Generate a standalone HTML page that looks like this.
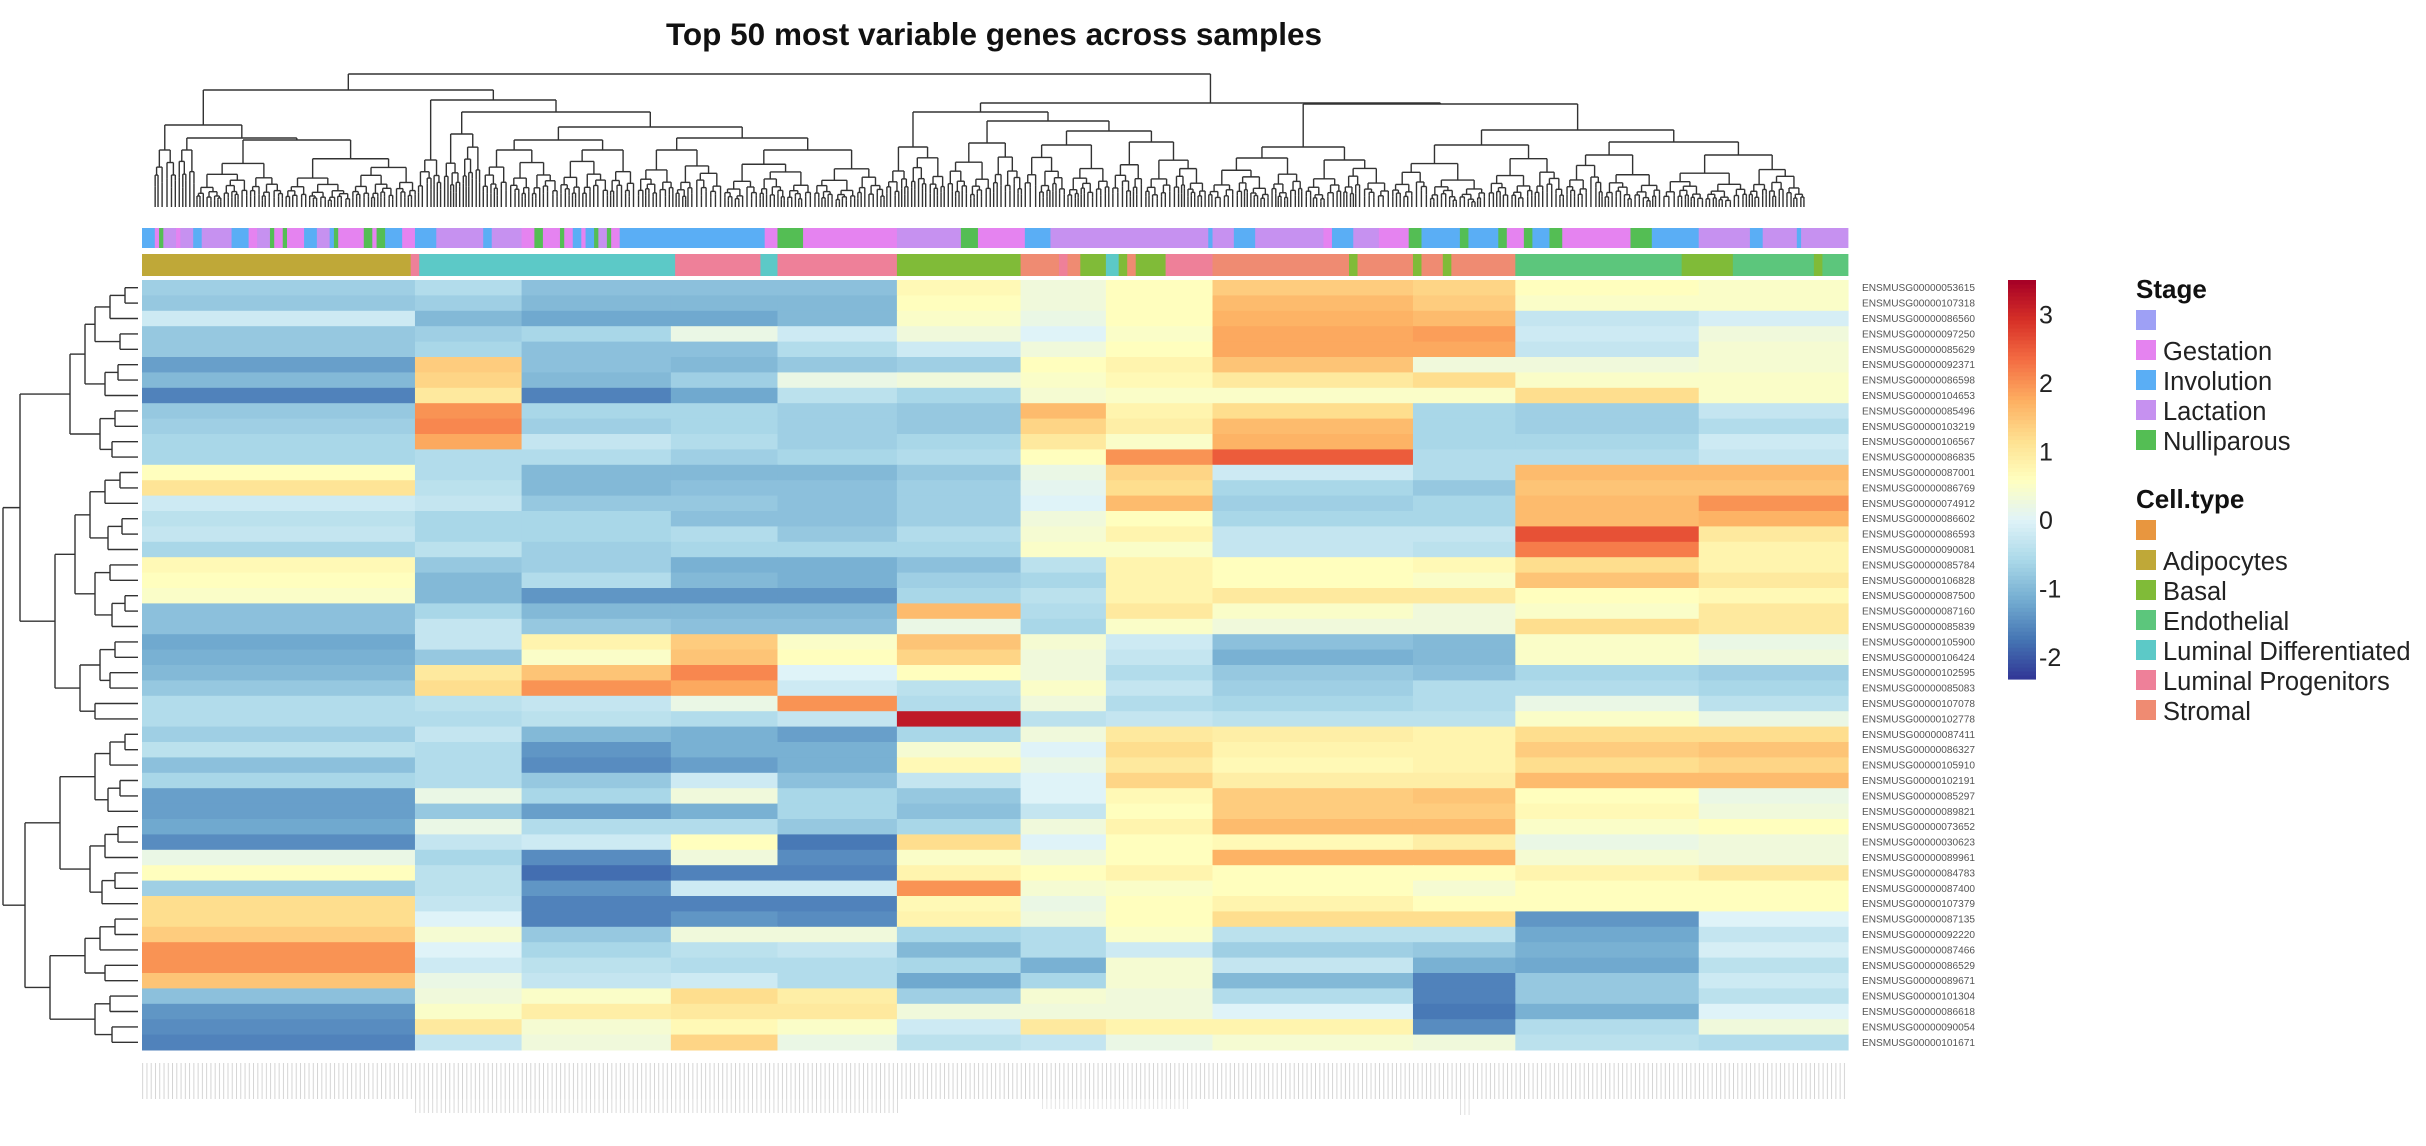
<!DOCTYPE html>
<html><head><meta charset="utf-8">
<style>
html,body{margin:0;padding:0;background:#fff;}
svg{display:block;font-family:"Liberation Sans",sans-serif;}
</style></head>
<body>
<svg id="chart" width="2426" height="1146" viewBox="0 0 2426 1146" xmlns="http://www.w3.org/2000/svg">
<defs>
<pattern id="lblpat" width="4.265" height="40" patternUnits="userSpaceOnUse">
<rect x="1.5" y="0" width="0.9" height="40" fill="#c4c4c4"/>
</pattern>
</defs>
<text x="994" y="45" text-anchor="middle" font-size="31.5" font-weight="bold" fill="#111">Top 50 most variable genes across samples</text>
<g id="coldend" stroke="#333" stroke-width="1.4" fill="none"></g>
<g id="rowdend" stroke="#333" stroke-width="1.4" fill="none"></g>
<g id="stagebar"></g>
<g id="cellbar"></g>
<g id="heat"></g>
<g id="rowlabels"></g>
<g>
<rect x="142" y="1063" width="1706" height="36" fill="url(#lblpat)" opacity="0.8"/>
<rect x="414" y="1099" width="484" height="14" fill="url(#lblpat)" opacity="0.7"/>
<rect x="1040" y="1099" width="150" height="10" fill="url(#lblpat)" opacity="0.5"/>
<rect x="1460" y="1099" width="10" height="16" fill="url(#lblpat)" opacity="0.6"/>
</g>
<g id="colorbar"></g>
<g id="legend"></g>
</svg>
<script>
// ---------- data ----------
const N_SAMPLES = 400;
const segEnds = [64, 89, 124, 149, 177, 206, 226, 251, 298, 322, 365, 400];
const geneIds = ["ENSMUSG00000053615","ENSMUSG00000107318","ENSMUSG00000086560","ENSMUSG00000097250","ENSMUSG00000085629","ENSMUSG00000092371","ENSMUSG00000086598","ENSMUSG00000104653","ENSMUSG00000085496","ENSMUSG00000103219","ENSMUSG00000106567","ENSMUSG00000086835","ENSMUSG00000087001","ENSMUSG00000086769","ENSMUSG00000074912","ENSMUSG00000086602","ENSMUSG00000086593","ENSMUSG00000090081","ENSMUSG00000085784","ENSMUSG00000106828","ENSMUSG00000087500","ENSMUSG00000087160","ENSMUSG00000085839","ENSMUSG00000105900","ENSMUSG00000106424","ENSMUSG00000102595","ENSMUSG00000085083","ENSMUSG00000107078","ENSMUSG00000102778","ENSMUSG00000087411","ENSMUSG00000086327","ENSMUSG00000105910","ENSMUSG00000102191","ENSMUSG00000085297","ENSMUSG00000089821","ENSMUSG00000073652","ENSMUSG00000030623","ENSMUSG00000089961","ENSMUSG00000084783","ENSMUSG00000087400","ENSMUSG00000107379","ENSMUSG00000087135","ENSMUSG00000092220","ENSMUSG00000087466","ENSMUSG00000086529","ENSMUSG00000089671","ENSMUSG00000101304","ENSMUSG00000086618","ENSMUSG00000090054","ENSMUSG00000101671"];
const rowValues = [
[-0.7,-0.5,-0.9,-0.9,-0.9,0.7,0.3,0.6,1.4,1.3,0.6,0.5],
[-0.8,-0.7,-1.0,-1.0,-1.0,0.6,0.3,0.6,1.6,1.4,0.5,0.5],
[-0.2,-1.0,-1.2,-1.2,-1.0,0.5,0.2,0.6,1.7,1.6,-0.3,-0.1],
[-0.8,-0.7,-0.6,0.2,-0.2,0.3,0.0,0.5,1.8,1.9,-0.2,0.3],
[-0.8,-0.6,-0.9,-0.9,-0.5,-0.2,0.3,0.6,1.8,1.8,-0.3,0.4],
[-1.3,1.4,-0.9,-1.0,-0.8,-0.7,0.6,0.8,1.5,0.3,0.3,0.4],
[-1.0,1.3,-1.0,-0.7,0.2,0.3,0.5,0.7,1.0,1.2,0.5,0.5],
[-1.6,1.0,-1.6,-1.2,-0.4,-0.6,0.4,0.5,0.5,0.5,1.2,0.5],
[-0.8,2.0,-0.6,-0.6,-0.7,-0.8,1.6,0.8,1.2,-0.6,-0.7,-0.3],
[-0.7,2.1,-0.7,-0.6,-0.7,-0.8,1.3,0.9,1.6,-0.6,-0.7,-0.5],
[-0.6,1.8,-0.3,-0.5,-0.7,-0.6,1.0,0.5,1.7,-0.6,-0.6,-0.2],
[-0.6,-0.5,-0.5,-0.7,-0.6,-0.5,0.6,2.0,2.5,-0.5,-0.5,-0.3],
[0.6,-0.5,-1.0,-1.0,-1.0,-0.8,0.2,1.3,-0.2,-0.5,1.6,1.6],
[1.1,-0.4,-1.0,-0.9,-0.9,-0.7,0.1,1.2,-0.6,-0.8,1.5,1.5],
[-0.2,-0.3,-0.8,-0.8,-0.9,-0.7,0.0,1.6,-0.7,-0.6,1.6,2.0],
[-0.4,-0.6,-0.6,-0.9,-0.9,-0.7,0.3,0.6,-0.6,-0.6,1.6,1.7],
[-0.3,-0.6,-0.6,-0.5,-0.8,-0.5,0.4,0.8,-0.3,-0.3,2.6,1.0],
[-0.6,-0.4,-0.7,-0.6,-0.6,-0.6,0.5,0.5,-0.3,-0.4,2.2,0.8],
[0.7,-0.8,-0.7,-1.1,-1.1,-0.9,-0.4,0.8,0.6,0.7,1.2,0.8],
[0.6,-1.0,-0.5,-1.0,-1.1,-0.7,-0.6,0.8,0.6,0.5,1.5,1.0],
[0.5,-1.0,-1.4,-1.4,-1.4,-0.6,-0.4,0.8,1.0,1.0,0.6,0.7],
[-0.9,-0.6,-1.0,-1.0,-1.0,1.6,-0.5,1.0,0.5,0.3,0.5,1.0],
[-0.9,-0.3,-0.8,-0.9,-0.9,0.2,-0.6,0.5,0.3,0.3,1.2,1.0],
[-1.2,-0.3,0.8,1.4,0.5,1.5,0.4,-0.2,-0.9,-1.0,0.5,0.2],
[-1.1,-0.8,0.5,1.5,0.6,1.3,0.3,-0.3,-1.1,-1.0,0.5,0.3],
[-1.0,1.0,1.5,2.1,0.0,0.6,0.3,-0.5,-0.8,-0.9,-0.6,-0.7],
[-0.8,1.2,2.0,1.8,-0.2,-0.4,0.5,-0.3,-0.7,-0.5,-0.5,-0.6],
[-0.5,-0.4,-0.3,0.2,2.0,-0.5,0.3,-0.5,-0.6,-0.5,0.2,-0.4],
[-0.5,-0.5,-0.4,-0.5,-0.3,3.2,-0.4,-0.3,-0.4,-0.4,0.5,0.2],
[-0.7,-0.3,-1.0,-1.1,-1.3,-0.6,0.3,1.0,0.9,0.8,1.2,1.2],
[-0.4,-0.5,-1.4,-1.1,-1.1,0.4,0.0,1.2,0.8,0.8,1.4,1.5],
[-0.9,-0.5,-1.5,-1.3,-1.1,0.7,0.2,1.0,0.7,0.8,1.2,1.3],
[-0.6,-0.5,-0.8,-0.2,-0.9,-0.3,0.0,1.3,0.9,0.9,1.6,1.6],
[-1.3,0.2,-0.6,0.3,-0.6,-0.8,0.0,0.7,1.4,1.5,0.6,0.2],
[-1.3,-0.8,-1.3,-1.1,-0.6,-0.9,-0.3,0.6,1.4,1.4,0.7,0.3],
[-1.2,0.2,-0.5,-0.5,-0.8,-0.6,0.3,0.8,1.6,1.6,0.5,0.6],
[-1.5,-0.3,-0.2,0.6,-1.7,1.2,0.0,0.6,0.7,0.9,0.2,0.3],
[0.2,-0.6,-1.5,0.3,-1.5,0.5,0.3,0.6,1.7,1.7,0.4,0.3],
[0.6,-0.4,-1.8,-1.6,-1.6,0.8,0.6,0.8,0.6,0.6,0.8,1.0],
[-0.7,-0.4,-1.4,-0.2,-0.2,2.0,0.4,0.5,0.6,0.4,0.6,0.6],
[1.2,-0.3,-1.6,-1.6,-1.6,0.7,0.2,0.6,0.8,0.6,0.6,0.6],
[1.2,0.0,-1.6,-1.4,-1.5,0.8,0.3,0.6,1.2,1.2,-1.4,0.0],
[1.4,0.4,-0.8,0.3,0.3,-0.6,-0.5,0.5,-0.4,-0.4,-1.2,-0.3],
[2.0,0.0,-0.6,-0.4,-0.3,-1.0,-0.5,-0.2,-0.7,-0.8,-1.1,-0.1],
[2.0,-0.2,-0.4,-0.5,-0.5,-0.6,-1.1,0.4,-0.3,-1.1,-1.2,-0.4],
[1.5,0.2,-0.3,-0.2,-0.5,-1.2,-0.6,0.4,-1.0,-1.6,-0.8,-0.2],
[-0.9,0.3,0.5,1.2,0.9,-0.7,0.4,0.3,-0.5,-1.6,-0.8,-0.4],
[-1.4,0.5,0.9,1.0,1.0,0.3,0.3,0.3,0.0,-1.7,-1.1,0.0],
[-1.5,1.0,0.4,0.7,0.5,-0.2,1.0,0.8,0.8,-1.5,-0.5,0.3],
[-1.6,-0.3,0.3,1.3,0.2,-0.4,-0.3,0.2,0.4,0.3,-0.4,-0.5]
];
const stageNames = ["", "Gestation", "Involution", "Lactation", "Nulliparous"];
const stageColors = ["#9ea0f5", "#e583f0", "#5aaef5", "#c691f0", "#54be54"];
const stageSegEnds = [3,4,5,8,9,12,14,21,25,27,30,31,33,34,38,41,44,45,46,52,54,55,57,61,64,69,80,82,89,92,94,98,99,101,103,104,106,107,109,110,112,146,149,155,177,192,196,207,213,250,251,256,261,277,279,284,290,297,300,309,311,318,320,324,326,330,333,349,354,365,377,380,388,389,400];
const stageSegCodes = [2,1,4,3,1,3,2,3,2,1,3,4,1,4,1,2,3,2,4,1,4,1,4,2,1,2,3,2,3,1,4,1,4,1,2,1,2,4,3,4,1,2,1,4,1,3,4,1,2,3,2,3,2,3,1,2,3,1,4,2,4,2,4,1,4,2,4,1,4,2,3,2,3,2,3];
const cellNames = ["", "Adipocytes", "Basal", "Endothelial", "Luminal Differentiated", "Luminal Progenitors", "Stromal"];
const cellColors = ["#e8963f", "#bfa838", "#80bb38", "#5cc67c", "#5cc9c7", "#ee8099", "#ef8b72"];
const cellSegEnds = [63,65,125,145,149,177,206,215,217,220,226,229,231,233,240,251,283,285,298,300,305,307,322,361,373,392,394,400];
const cellSegCodes = [1,5,4,5,4,5,2,6,5,6,2,4,2,6,2,5,6,2,6,2,6,2,6,3,2,3,2,3];
const colorStops = ["#313695","#4575b4","#74add1","#abd9e9","#e0f3f8","#ffffbf","#fee090","#fdae61","#f46d43","#d73027","#a50026"];
const scaleMin = -2.32, scaleMax = 3.5;
const colorbarTicks = [-2, -1, 0, 1, 2, 3];
const colTree = [74,
 [90,
   [125, [142,166,150], [138, [166,185,150], [185,414,140]]],
   [100, [414,440,160], [112, [440,480,134], [127, [140,[480,560,150],[560,640,150]], [138,[640,730,150],[730,898,150]]]]]],
 [103,
   [112, [898,960,147], [121, [960,1040,143], [131,[1040,1130,145],[1130,1230,142]]]],
   [104, [147,[1230,1330,158],[1330,1420,160]], [130, [1420,1600,145], [142,[1600,1700,155],[1700,1848,155]]]]]];
const rowTree = [3,
 [20,
  [70, [85, [95,[110,[125,0,1],2],[120,3,4]], [105,[118,5,6],7]], [100,[115,8,9],[112,10,11]]],
  [55, [75, [90,[105,[120,12,13],14],[108,[122,15,16],17]], [95,[110,18,19],[112,[125,20,21],22]]],
       [80,[100,[115,23,24],[110,25,26]],[95,27,28]]]],
 [25,
  [60, [95,[110,[125,29,30],31],[108,[120,32,33],34]], [90,[105,[118,35,36],37],[102,[115,38,39],40]]],
  [50, [85,[100,[115,41,42],43],[105,44,45]], [95,[110,46,47],[112,48,49]]]]];

// ---------- geometry ----------
const NS = "http://www.w3.org/2000/svg";
const HX0 = 142, HX1 = 1848, HY0 = 280, HY1 = 1050;
const ROWH = (HY1 - HY0) / geneIds.length;
const xScale = s => HX0 + s * (HX1 - HX0) / N_SAMPLES;
const yScale = r => HY0 + r * ROWH;
const CB_TOP = 280, CB_BOT = 679, CB_ZERO = 520;
const cbPerUnit = (CB_ZERO - CB_TOP) / scaleMax;
const cbY = v => CB_ZERO - v * cbPerUnit;

function hex2rgb(h){return [parseInt(h.substr(1,2),16),parseInt(h.substr(3,2),16),parseInt(h.substr(5,2),16)];}
function colorFor(v){
  let t = (v - scaleMin) / (scaleMax - scaleMin);
  t = Math.max(0, Math.min(1, t)) * (colorStops.length - 1);
  const i = Math.min(colorStops.length - 2, Math.floor(t)), f = t - i;
  const a = hex2rgb(colorStops[i]), b = hex2rgb(colorStops[i+1]);
  return "rgb(" + a.map((c,k)=>Math.round(c + (b[k]-c)*f)).join(",") + ")";
}
function mk(tag, attrs, parent){
  const e = document.createElementNS(NS, tag);
  for (const k in attrs) e.setAttribute(k, attrs[k]);
  parent.appendChild(e);
  return e;
}

// ---------- heatmap ----------
const heat = document.getElementById("heat");
rowValues.forEach((vals, r) => {
  let s0 = 0;
  vals.forEach((v, c) => {
    const s1 = segEnds[c];
    const el = mk("rect", {x: xScale(s0), y: yScale(r), width: xScale(s1) - xScale(s0) + 0.6, height: ROWH + 0.5, fill: colorFor(v)}, heat);
    
    
    s0 = s1;
  });
});

// ---------- row labels ----------
const rl = document.getElementById("rowlabels");
geneIds.forEach((g, r) => {
  const t = mk("text", {x: 1862, y: yScale(r) + ROWH/2 + 3.5, "font-size": 10, fill: "#555", textLength: 113, lengthAdjust: "spacingAndGlyphs"}, rl);
  t.textContent = g;
  
  
});

// ---------- annotation bars ----------
function drawBar(gid, ends, codes, colors, y, h, nm){
  const g = document.getElementById(gid);
  let s0 = 0;
  ends.forEach((s1, i) => {
    const el = mk("rect", {x: xScale(s0), y: y, width: xScale(s1) - xScale(s0) + 0.4, height: h, fill: colors[codes[i]]}, g);
    
    
    s0 = s1;
  });
}
drawBar("stagebar", stageSegEnds, stageSegCodes, stageColors, 228, 20, "stage-segment");
drawBar("cellbar", cellSegEnds, cellSegCodes, cellColors, 254, 22, "cell-type-segment");

// ---------- column dendrogram ----------
const cd = document.getElementById("coldend");
const LEAF_Y = 207;
const dmap = x => 154 + (x - 142) * (1805 - 154) / (1848 - 142);
function ln(g, x1, y1, x2, y2){ mk("line", {x1:x1, y1:y1, x2:x2, y2:y2}, g); }
const fSeq = [0.45,0.55,0.4,0.6,0.5,0.35,0.65];
const klSeq = [0.3,0.2,0.35,0.25,0.4];
const krSeq = [0.22,0.38,0.28,0.33,0.18];
function sub(x0, x1, y, d){
  if (x1 - x0 < 5.5) { const xc = (x0 + x1) / 2; ln(cd, xc, y, xc, LEAF_Y); return xc; }
  const xm = x0 + (x1 - x0) * fSeq[d % 7];
  const yl = y + (LEAF_Y - y) * klSeq[d % 5];
  const yr = y + (LEAF_Y - y) * krSeq[d % 5];
  const a = sub(x0, xm, yl, d + 1), b = sub(xm, x1, yr, d + 2);
  ln(cd, a, y, b, y); ln(cd, a, y, a, yl); ln(cd, b, y, b, yr);
  return (a + b) / 2;
}
let termCount = 0;
function drawCol(node){
  if (!Array.isArray(node[1])) {
    const x = sub(dmap(node[0]), dmap(node[1]), node[2], termCount++);
    return {x: x, y: node[2]};
  }
  const a = drawCol(node[1]), b = drawCol(node[2]), y = node[0];
  ln(cd, a.x, y, b.x, y); ln(cd, a.x, y, a.x, a.y); ln(cd, b.x, y, b.x, b.y);
  return {x: (a.x + b.x) / 2, y: y};
}
drawCol(colTree);

// ---------- row dendrogram ----------
const rd = document.getElementById("rowdend");
const LEAF_X = 138;
function drawRow(node){
  if (typeof node === "number") return {y: yScale(node) + ROWH/2, x: LEAF_X};
  const a = drawRow(node[1]), b = drawRow(node[2]), x = node[0];
  ln(rd, x, a.y, x, b.y); ln(rd, x, a.y, a.x, a.y); ln(rd, x, b.y, b.x, b.y);
  return {y: (a.y + b.y) / 2, x: x};
}
drawRow(rowTree);

// ---------- colorbar ----------
const cb = document.getElementById("colorbar");
const nSteps = 100;
for (let i = 0; i < nSteps; i++) {
  const v0 = scaleMin + (scaleMax - scaleMin) * i / nSteps;
  const v1 = scaleMin + (scaleMax - scaleMin) * (i + 1) / nSteps;
  const el = mk("rect", {x: 2008, y: cbY(v1), width: 28, height: cbY(v0) - cbY(v1) + 0.5, fill: colorFor((v0 + v1) / 2)}, cb);
  
  
}
colorbarTicks.forEach(v => {
  const t = mk("text", {x: 2039, y: cbY(v) + 9, "font-size": 25, fill: "#222"}, cb);
  t.textContent = String(v);
  
  
});

// ---------- legends ----------
const lg = document.getElementById("legend");
function legendBlock(title, names, colors, titleY, firstY){
  const tt = mk("text", {x: 2136, y: titleY, "font-size": 26, "font-weight": "bold", fill: "#111"}, lg);
  tt.textContent = title;
  
  
  names.forEach((n, i) => {
    const y = firstY + i * 30;
    const sw = mk("rect", {x: 2136, y: y, width: 20, height: 20, fill: colors[i]}, lg);
    
    
    const t = mk("text", {x: 2163, y: y + 20, "font-size": 25.5, fill: "#222"}, lg);
    t.textContent = n;
    
    
  });
}
legendBlock("Stage", stageNames, stageColors, 298, 310);
legendBlock("Cell.type", cellNames, cellColors, 508, 520);
</script>
</body></html>
